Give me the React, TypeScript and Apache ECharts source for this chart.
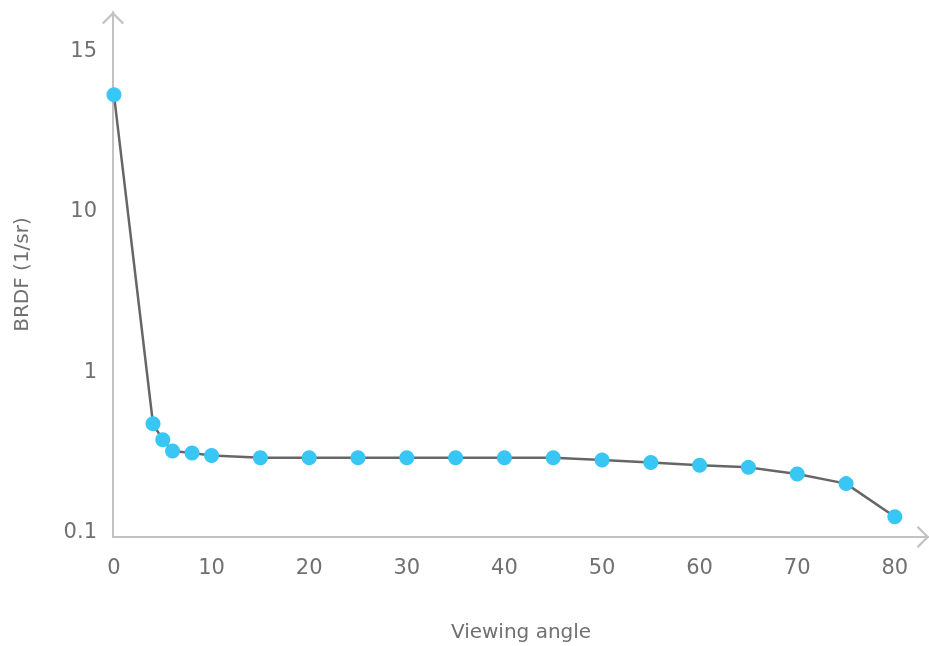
import React, { useEffect, useRef } from "react";
import * as echarts from "echarts";

const angles = [0, 4, 5, 6, 8, 10, 15, 20, 25, 30, 35, 40, 45, 50, 55, 60, 65, 70, 75, 80];
const brdf = [13.6, 0.467, 0.371, 0.316, 0.307, 0.296, 0.287, 0.287, 0.287, 0.287, 0.287, 0.287, 0.287, 0.278, 0.268, 0.258, 0.25, 0.227, 0.198, 0.123];
const yTickValues = [0.1, 1, 10, 15];
const xTickValues = [0, 10, 20, 30, 40, 50, 60, 70, 80];

// Axis scale: logarithmic up to 10, then linear 10 -> 15 over one decade's height
const toAxis = (v: number) => (v <= 10 ? Math.log10(v) : 1 + (v - 10) / 5);
const fromAxis = (t: number) => (t <= 1 ? Math.pow(10, t) : 10 + (t - 1) * 5);

const FONT = "DejaVu Sans";
const TEXT = "#707070";
const AXIS = "#c2c2c2";
const CHEVRON = "path://M0,11 L11,0 L22,11 L20.4,12.6 L11,3.2 L1.6,12.6 Z";

export default function App() {
  const ref = useRef<HTMLDivElement>(null);
  useEffect(() => {
    if (!ref.current) return;
    const chart = echarts.init(ref.current, null, { renderer: "svg" });
    const axisLine = {
      show: true,
      onZero: false,
      symbol: ["none", CHEVRON],
      symbolSize: [22, 12.6],
      symbolOffset: [0, -6],
      lineStyle: { color: AXIS, width: 2 },
    };
    chart.setOption({
      animation: false,
      grid: { left: 113, right: 0, top: 12, bottom: 107.5, containLabel: false },
      xAxis: {
        type: "value",
        min: -0.1,
        max: 83.5,
        name: "Viewing angle",
        nameLocation: "middle",
        nameGap: 84,
        nameTextStyle: { color: TEXT, fontSize: 20, fontFamily: FONT },
        axisLine,
        axisTick: { show: false },
        splitLine: { show: false },
        axisLabel: {
          customValues: xTickValues,
          color: TEXT,
          fontSize: 21,
          fontFamily: FONT,
          margin: 19,
        },
      },
      yAxis: {
        type: "value",
        min: -1.036,
        max: 2.236,
        name: "BRDF (1/sr)",
        nameLocation: "middle",
        nameGap: 82,
        nameTextStyle: { color: TEXT, fontSize: 20, fontFamily: FONT },
        axisLine,
        axisTick: { show: false },
        splitLine: { show: false },
        axisLabel: {
          customValues: yTickValues.map(toAxis),
          formatter: (t: number) => {
            const v = fromAxis(t);
            return String(Math.round(v * 10) / 10);
          },
          color: TEXT,
          fontSize: 21,
          fontFamily: FONT,
          margin: 16,
        },
      },
      series: [
        {
          type: "line",
          data: angles.map((a, i) => [a, toAxis(brdf[i])]),
          symbol: "circle",
          symbolSize: 15,
          itemStyle: { color: "#38c6f4" },
          lineStyle: { color: "#666666", width: 2.5 },
        },
      ],
    });
    return () => chart.dispose();
  }, []);
  return (
    <div
      ref={ref}
      style={{ position: "fixed", left: 0, top: 0, width: 929, height: 646 }}
    />
  );
}
